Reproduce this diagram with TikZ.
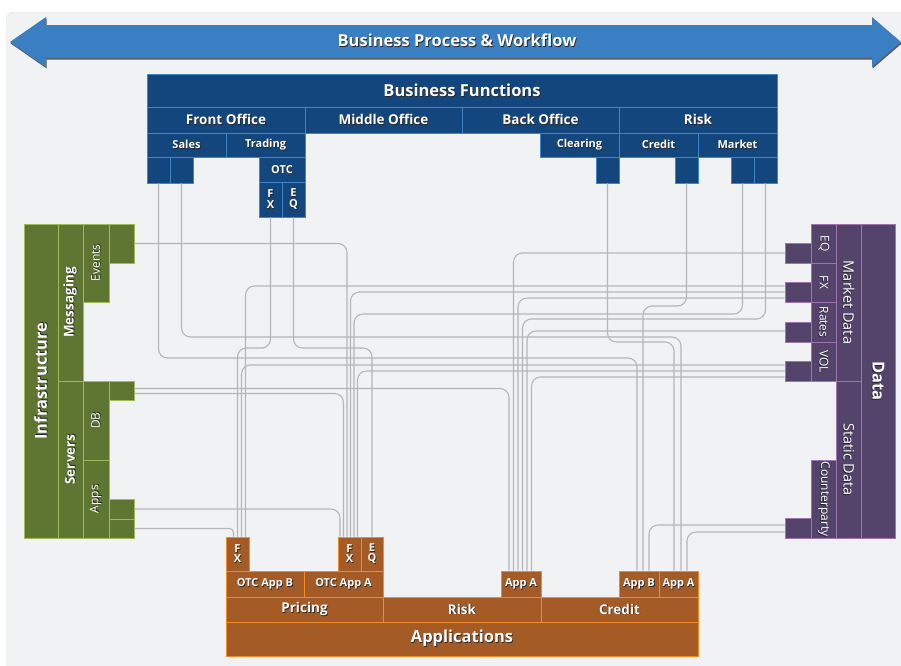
\documentclass[tikz,border=0pt]{standalone}
\usepackage{fontspec}
\setmainfont{Open Sans}
\usepackage{graphicx}
\usepackage{tikz}
\definecolor{bizfill}{HTML}{13467C}
\definecolor{bizline}{HTML}{3F85C9}
\definecolor{inffill}{HTML}{5E7631}
\definecolor{infline}{HTML}{9DBB56}
\definecolor{datfill}{HTML}{54436B}
\definecolor{datline}{HTML}{A073B1}
\definecolor{appfill}{HTML}{A55B26}
\definecolor{appline}{HTML}{F08B25}
\definecolor{wirecol}{HTML}{B5B6B8}
\definecolor{panel}{HTML}{F1F2F4}
\definecolor{bannerblue}{HTML}{3A7FC1}
\newcommand{\shd}[1]{\rlap{\kern0.8pt\raisebox{-0.8pt}{\textcolor{black!85}{#1}}}#1}
\newcommand{\rotup}[1]{\rotatebox{90}{\shd{#1}}}
\newcommand{\rotdn}[1]{\rotatebox{-90}{\shd{#1}}}

\begin{document}
\begin{tikzpicture}[x=1pt, y=-1pt,
    box/.style 2 args={draw, line width=0.9pt, inner sep=0pt, text=white, minimum width=#1pt, minimum height=#2pt},
    biz/.style={fill=bizfill, draw=bizline},
    inf/.style={fill=inffill, draw=infline},
    dat/.style={fill=datfill, draw=datline},
    app/.style={fill=appfill, draw=appline},
    lg/.style={font=\fontsize{16.5}{18}\selectfont\bfseries},
    md/.style={font=\fontsize{13.5}{14}\selectfont\bfseries},
    mdr/.style={font=\fontsize{14.5}{15}\selectfont},
    sm/.style={font=\fontsize{11}{10.5}\selectfont\bfseries},
    smr/.style={font=\fontsize{12}{12}\selectfont},
    wire/.style={draw=wirecol, line width=1.1pt, rounded corners=9pt}]
    \useasboundingbox (0,0) rectangle (901,665);

    % Panel and banner
    \filldraw[fill=panel, draw=black!10, rounded corners=8pt] (6,12) rectangle (920,690);
    \fill[black!65, shift={(0.7,1.5)}] (10,42) -- (46,17) -- (46,25) -- (872,25) -- (872,17) -- (901,42)
        -- (872,67) -- (872,58) -- (46,58) -- (46,67) -- cycle;
    \fill[bannerblue] (10,42) -- (46,17) -- (46,25) -- (872,25) -- (872,17) -- (901,42)
        -- (872,67) -- (872,58) -- (46,58) -- (46,67) -- cycle;
    \node[lg, text=white] (bpw) at (457,41) {\shd{Business Process \& Workflow}};

    % Business functions
    \node[box={630}{33}, biz, lg] (bf) at (462,90.5) {\shd{Business Functions}};
    \node[box={158}{26}, biz, md] (fo) at (226,120) {\shd{Front Office}};
    \node[box={157}{26}, biz, md] (mo) at (383.5,120) {\shd{Middle Office}};
    \node[box={157}{26}, biz, md] (bo) at (540.5,120) {\shd{Back Office}};
    \node[box={158}{26}, biz, md] (rk) at (698,120) {\shd{Risk}};
    \node[box={79}{24}, biz, sm] (sal) at (186.5,145) {\shd{Sales}};
    \node[box={79}{24}, biz, sm] (trd) at (265.5,145) {\shd{Trading}};
    \node[box={79}{24}, biz, sm] (clr) at (579.5,145) {\shd{Clearing}};
    \node[box={79}{24}, biz, sm] (crd) at (658.5,145) {\shd{Credit}};
    \node[box={79}{24}, biz, sm] (mkt) at (737.5,145) {\shd{Market}};
    \node[box={23}{26}, biz] (sa1) at (158.5,170) {};
    \node[box={23}{26}, biz] (sa2) at (181.5,170) {};
    \node[box={46}{25}, biz, sm] (otc) at (282,169.5) {\shd{OTC}};
    \node[box={23}{35}, biz, sm, align=center] (tfx) at (270.5,199.5) {\shd{F}\\\shd{X}};
    \node[box={23}{35}, biz, sm, align=center] (teq) at (293.5,199.5) {\shd{E}\\\shd{Q}};
    \node[box={23}{26}, biz] (clb) at (607.5,170) {};
    \node[box={23}{26}, biz] (crb) at (686.5,170) {};
    \node[box={23}{26}, biz] (mk1) at (742.5,170) {};
    \node[box={23}{26}, biz] (mk2) at (765.5,170) {};

    % Infrastructure
    \node[box={34}{314}, inf, lg] (infr) at (41,381) {\rotup{Infrastructure}};
    \node[box={25}{157}, inf, md] (msg) at (70.5,302.5) {\rotup{Messaging}};
    \node[box={25}{157}, inf, md] (srv) at (70.5,459.5) {\rotup{Servers}};
    \node[box={26}{78}, inf, smr] (evt) at (96,263) {\rotup{Events}};
    \node[box={25}{39}, inf] (evs) at (121.5,243.5) {};
    \node[box={26}{79}, inf, smr] (db) at (96,420.5) {\rotup{DB}};
    \node[box={25}{19}, inf] (dbs) at (121.5,390.5) {};
    \node[box={26}{78}, inf, smr] (aps) at (96,499) {\rotup{Apps}};
    \node[box={25}{20}, inf] (as1) at (121.5,509) {};
    \node[box={25}{19}, inf] (as2) at (121.5,528.5) {};

    % Data
    \node[box={34}{314}, dat, lg] (data) at (878,381) {\rotdn{Data}};
    \node[box={25}{157}, dat, mdr] (mdt) at (848.5,302.5) {\rotdn{Market Data}};
    \node[box={25}{157}, dat, mdr] (sdt) at (848.5,459.5) {\rotdn{Static Data}};
    \node[box={25}{39}, dat, smr] (deq) at (823.5,243.5) {\rotdn{EQ}};
    \node[box={25}{39}, dat, smr] (dfx) at (823.5,282.5) {\rotdn{FX}};
    \node[box={25}{40}, dat, smr] (drt) at (823.5,322) {\rotdn{Rates}};
    \node[box={25}{39}, dat, smr] (dvl) at (823.5,361.5) {\rotdn{VOL}};
    \node[box={25}{78}, dat, smr] (dcp) at (823.5,499) {\rotdn{Counterparty}};
    \node[box={26}{20}, dat] (seq) at (798,253) {};
    \node[box={26}{20}, dat] (sfx) at (798,292) {};
    \node[box={26}{20}, dat] (srt) at (798,332) {};
    \node[box={26}{20}, dat] (svl) at (798,371) {};
    \node[box={26}{20}, dat] (scp) at (798,528) {};

    % Applications
    \node[box={472}{34}, app, lg] (apl) at (462,639) {\shd{Applications}};
    \node[box={157}{25}, app, md] (prc) at (304.5,609.5) {\shd{Pricing}};
    \node[box={158}{25}, app, md] (ark) at (462,609.5) {\shd{Risk}};
    \node[box={157}{25}, app, md] (acr) at (619.5,609.5) {\shd{Credit}};
    \node[box={78}{26}, app, sm] (otb) at (265,584) {\shd{OTC App B}};
    \node[box={79}{26}, app, sm] (ota) at (343.5,584) {\shd{OTC App A}};
    \node[box={23}{34}, app, sm, align=center] (fxb) at (237.5,554) {\shd{F}\\\shd{X}};
    \node[box={23}{34}, app, sm, align=center] (fxa) at (349.5,554) {\shd{F}\\\shd{X}};
    \node[box={22}{34}, app, sm, align=center] (eqa) at (372,554) {\shd{E}\\\shd{Q}};
    \node[box={40}{26}, app, sm] (rka) at (521,584) {\shd{App A}};
    \node[box={40}{26}, app, sm] (cab) at (639,584) {\shd{App B}};
    \node[box={39}{26}, app, sm] (caa) at (678.5,584) {\shd{App A}};

    % Wires from business functions
    \draw[wire] (sa1.south) |- (400,358) -| ([xshift=-2pt]cab.north);
    \draw[wire] (sa2.south) |- (400,337) -| ([xshift=2.5pt]caa.north);
    \draw[wire] (tfx.south) |- (255,348) -| (fxb.north);
    \draw[wire] (teq.south) |- (330,348) -| (eqa.north);
    \draw[wire] (clb.south) |- (640,342) -| ([xshift=-4.5pt]caa.north);
    \draw[wire] (crb.south) |- (660,306) -| ([xshift=4pt]cab.north);
    \draw[wire] (mk1.south) |- (500,314) -| ([xshift=4.5pt]fxa.north);
    \draw[wire] (mk2.south) |- (600,319) -| ([xshift=1.5pt]rka.north);

    % Wires from infrastructure
    \draw[wire] (evs.east) -| ([xshift=-2.5pt]fxa.north);
    \draw[wire] ([yshift=2pt]dbs.east) -| ([xshift=-12pt]rka.north);
    \draw[wire] ([yshift=-3pt]dbs.east) -| ([xshift=-6pt]fxa.north);
    \draw[wire] (as1.east) -| ([xshift=-9.5pt]fxa.north);
    \draw[wire, rounded corners=4pt] (as2.east) -| ([xshift=-4pt]fxb.north);

    % Wires from data
    \draw[wire] (seq.west) -| ([xshift=-7.5pt]rka.north);
    \draw[wire] ([yshift=6pt]sfx.west) -| ([xshift=8pt]fxb.north);
    \draw[wire] (sfx.west) -| ([xshift=1pt]fxa.north);
    \draw[wire] ([yshift=-6pt]sfx.west) -| ([xshift=-3pt]rka.north);
    \draw[wire] ([yshift=1pt]srt.west) -| ([xshift=6pt]rka.north);
    \draw[wire] ([yshift=6pt]svl.west) -| ([xshift=4pt]fxb.north);
    \draw[wire] (svl.west) -| ([xshift=8pt]fxa.north);
    \draw[wire] ([yshift=-6pt]svl.west) -| ([xshift=10.5pt]rka.north);
    \draw[wire] ([yshift=3pt]scp.west) -| ([xshift=10pt]cab.north);
    \draw[wire] ([yshift=-4pt]scp.west) -| ([xshift=8.5pt]caa.north);
\end{tikzpicture}
\end{document}
